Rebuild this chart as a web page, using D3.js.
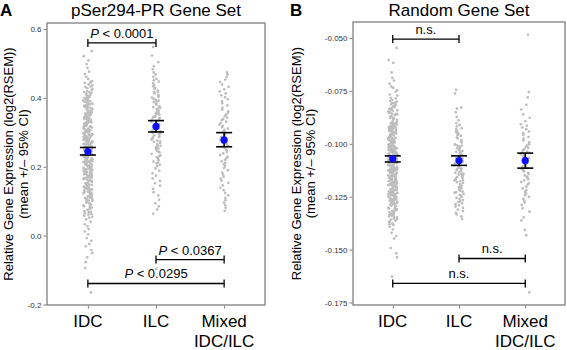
<!DOCTYPE html>
<html>
<head>
<meta charset="utf-8">
<script src="https://cdn.jsdelivr.net/npm/d3@7"></script>
<style>
  body { margin: 0; background: #fff; }
  text { font-family: "Liberation Sans", Arial, sans-serif; }
</style>
</head>
<body>
<div id="canvas"></div>
<script>
"use strict"

/*** DATA ***/
let categories = ["IDC", "ILC", "Mixed\nIDC/ILC"]

/* Panel A: pSer294-PR gene set, one value per tumour */
let idcA = [0.536, 0.521, 0.509, 0.498, 0.487, 0.476, 0.469, 0.461, 0.455, 0.449,
    0.447, 0.443, 0.436, 0.433, 0.428, 0.422, 0.419, 0.416, 0.412, 0.409, 0.405, 0.403, 0.401,
    0.399, 0.396, 0.393, 0.392, 0.388, 0.386, 0.383, 0.381, 0.379, 0.375, 0.373, 0.372, 0.368,
    0.366, 0.364, 0.361, 0.359, 0.357, 0.356, 0.354, 0.352, 0.350,
    0.348, 0.347, 0.344, 0.342, 0.34, 0.339, 0.336, 0.333, 0.332, 0.329, 0.327, 0.326, 0.324,
    0.321, 0.32, 0.318, 0.316, 0.313, 0.312, 0.31, 0.308, 0.307, 0.305, 0.304, 0.302, 0.301,
    0.299, 0.297, 0.296, 0.294, 0.292, 0.29, 0.289, 0.287, 0.285, 0.284, 0.282, 0.28, 0.279,
    0.277, 0.276, 0.273, 0.272, 0.27, 0.268, 0.267, 0.265, 0.263, 0.262, 0.26, 0.258, 0.257,
    0.255, 0.254, 0.252, 0.251,
    0.249, 0.247, 0.245, 0.244, 0.242, 0.24, 0.239, 0.237, 0.236, 0.234, 0.232, 0.231, 0.229,
    0.227, 0.226, 0.224, 0.222, 0.221, 0.219, 0.218, 0.216, 0.214, 0.213, 0.211, 0.209, 0.208,
    0.206, 0.205, 0.203, 0.201,
    0.199, 0.197, 0.195, 0.194, 0.192, 0.19, 0.188, 0.187, 0.185, 0.183, 0.181, 0.18, 0.178,
    0.176, 0.174, 0.173, 0.171, 0.169, 0.167, 0.166, 0.164, 0.162, 0.16, 0.158, 0.156, 0.154, 0.152,
    0.149, 0.147, 0.144, 0.142, 0.14, 0.137, 0.135, 0.133, 0.13, 0.128, 0.126, 0.123, 0.121,
    0.119, 0.116, 0.114, 0.112, 0.109, 0.107, 0.105, 0.103, 0.101,
    0.098, 0.094, 0.091, 0.088, 0.085, 0.081, 0.078, 0.075, 0.071, 0.068, 0.065, 0.061, 0.058,
    0.055, 0.052, 0.047, 0.04, 0.033, 0.027, 0.019, 0.012, 0.004,
    -0.007, -0.015, -0.024, -0.031, -0.042, -0.051, -0.063, -0.077, -0.094, -0.165,
    0.444, 0.439, 0.431, 0.426, 0.417, 0.414, 0.407, 0.402,
    0.397, 0.394, 0.39, 0.385, 0.382, 0.377, 0.374, 0.37, 0.367, 0.363, 0.36, 0.358, 0.355, 0.351,
    0.349, 0.346, 0.343, 0.341, 0.338, 0.335, 0.331, 0.328, 0.325, 0.322, 0.319, 0.317, 0.314,
    0.311, 0.309, 0.306, 0.303, 0.3,
    0.298, 0.295, 0.293, 0.291, 0.288, 0.286, 0.283, 0.281, 0.278, 0.275, 0.274, 0.271, 0.269,
    0.266, 0.264, 0.261, 0.259, 0.256, 0.253, 0.25,
    0.248, 0.246, 0.243, 0.241, 0.238, 0.235, 0.233, 0.23, 0.228, 0.225, 0.223, 0.22, 0.217,
    0.215, 0.212, 0.21, 0.207, 0.204, 0.202, 0.2,
    0.198, 0.196, 0.193, 0.191, 0.189, 0.186, 0.184, 0.182, 0.179, 0.177, 0.175, 0.172, 0.17,
    0.168, 0.165, 0.161, 0.157, 0.153,
    0.148, 0.145, 0.141, 0.138, 0.134, 0.131, 0.127, 0.124, 0.12, 0.117, 0.113, 0.11, 0.106, 0.102,
    0.096, 0.089, 0.083, 0.077, 0.069, 0.063]

let ilcA = [0.548, 0.523, 0.504, 0.492, 0.483, 0.474, 0.468, 0.461, 0.455, 0.451,
    0.447, 0.443, 0.438, 0.434, 0.43, 0.426, 0.421, 0.417, 0.413, 0.409, 0.406, 0.403, 0.401,
    0.397, 0.394, 0.39, 0.387, 0.383, 0.38, 0.376, 0.373, 0.369, 0.366, 0.362, 0.359, 0.356,
    0.353, 0.351, 0.348, 0.345, 0.342, 0.339, 0.336, 0.333, 0.331, 0.328, 0.325, 0.322, 0.319,
    0.316, 0.313, 0.31, 0.308, 0.305, 0.303, 0.301, 0.297, 0.294, 0.291, 0.288, 0.285, 0.282,
    0.279, 0.276, 0.272, 0.269, 0.266, 0.263, 0.259, 0.256, 0.253, 0.251, 0.246, 0.242, 0.237,
    0.233, 0.228, 0.224, 0.219, 0.215, 0.21, 0.206, 0.202, 0.195, 0.188, 0.181, 0.174, 0.166,
    0.159, 0.152, 0.145, 0.136, 0.126, 0.117, 0.104, 0.094, 0.085, 0.076, 0.064, -0.096,
    0.418, 0.392, 0.371, 0.357, 0.344, 0.334, 0.323, 0.311, 0.299, 0.286, 0.274, 0.261, 0.244,
    0.231, 0.212]

let mixA = [0.474, 0.468, 0.461, 0.453, 0.446, 0.439, 0.432, 0.425, 0.419, 0.413, 0.407, 0.402,
    0.396, 0.39, 0.384, 0.378, 0.372, 0.366, 0.361, 0.356, 0.352, 0.347, 0.343, 0.339, 0.335,
    0.331, 0.327, 0.323, 0.319, 0.315, 0.311, 0.307, 0.303, 0.298, 0.294, 0.29, 0.286, 0.282,
    0.278, 0.274, 0.27, 0.266, 0.262, 0.257, 0.253, 0.248, 0.243, 0.239, 0.234, 0.229, 0.225,
    0.22, 0.216, 0.211, 0.207, 0.202, 0.196, 0.19, 0.183, 0.177, 0.171, 0.165, 0.159, 0.153,
    0.146, 0.139, 0.132, 0.124, 0.117, 0.11, 0.103, 0.096, 0.089, 0.081, 0.072]

let meanA = [0.244, 0.317, 0.278]
let ciLowA = [0.234, 0.301, 0.258]
let ciHighA = [0.256, 0.334, 0.299]

/* Panel B: random gene set */
let idcB = [-0.0547, -0.0604, -0.0618, -0.0663, -0.0689, -0.0702,
    -0.0716, -0.0729, -0.0735, -0.0748, -0.0754, -0.0767, -0.0772, -0.0785, -0.0793,
    -0.0801, -0.0806, -0.0809, -0.0814, -0.0818, -0.0823, -0.0827, -0.0831, -0.0836, -0.0839,
    -0.0844, -0.0848, -0.0852, -0.0857, -0.0861, -0.0865, -0.0869, -0.0874, -0.0878, -0.0883,
    -0.0887, -0.0896,
    -0.0901, -0.0904, -0.0907, -0.0909, -0.0913, -0.0916, -0.0919, -0.0921, -0.0924, -0.0928,
    -0.0931, -0.0933, -0.0937, -0.0940, -0.0942, -0.0946, -0.0948, -0.0951, -0.0955, -0.0957,
    -0.0960, -0.0964, -0.0966, -0.0969, -0.0972, -0.0975, -0.0978, -0.0981, -0.0984, -0.0987,
    -0.0990, -0.0992, -0.0995, -0.0998,
    -0.1002, -0.1004, -0.1007, -0.1009, -0.1012, -0.1014, -0.1016, -0.1019, -0.1021, -0.1024,
    -0.1026, -0.1028, -0.1031, -0.1033, -0.1036, -0.1038, -0.1040, -0.1043, -0.1045, -0.1048,
    -0.1050, -0.1052, -0.1055, -0.1057, -0.1060, -0.1062, -0.1064, -0.1067, -0.1069, -0.1072,
    -0.1074, -0.1076, -0.1079, -0.1081, -0.1084, -0.1086, -0.1088, -0.1091, -0.1093, -0.1095,
    -0.1097, -0.1099,
    -0.1102, -0.1104, -0.1107, -0.1109, -0.1112, -0.1114, -0.1117, -0.1119, -0.1122, -0.1124,
    -0.1127, -0.1129, -0.1132, -0.1134, -0.1137, -0.1139, -0.1142, -0.1144, -0.1147, -0.1149,
    -0.1152, -0.1154, -0.1157, -0.1159, -0.1162, -0.1164, -0.1167, -0.1169, -0.1172, -0.1174,
    -0.1177, -0.1179, -0.1182, -0.1184, -0.1187, -0.1189, -0.1192, -0.1194, -0.1196, -0.1198,
    -0.1202, -0.1205, -0.1208, -0.1211, -0.1214, -0.1217, -0.1220, -0.1223, -0.1226, -0.1229,
    -0.1232, -0.1235, -0.1238, -0.1241, -0.1244, -0.1247, -0.1250, -0.1253, -0.1256, -0.1259,
    -0.1262, -0.1265, -0.1268, -0.1271, -0.1274, -0.1277, -0.1280, -0.1284, -0.1289, -0.1295,
    -0.1302, -0.1306, -0.1311, -0.1315, -0.1319, -0.1324, -0.1329, -0.1333, -0.1338, -0.1343,
    -0.1348, -0.1353, -0.1358, -0.1364, -0.1370, -0.1377, -0.1384, -0.1392,
    -0.1405, -0.1421, -0.1436, -0.1448, -0.1493, -0.1518, -0.1537, -0.1628,
    -0.0783, -0.0797, -0.0804, -0.0816, -0.0825, -0.0834, -0.0842, -0.0853, -0.0859, -0.0871,
    -0.0880, -0.0892,
    -0.0902, -0.0906, -0.0911, -0.0917, -0.0922, -0.0926, -0.0930, -0.0935, -0.0939, -0.0944,
    -0.0949, -0.0953, -0.0959, -0.0962, -0.0968, -0.0973, -0.0977, -0.0983, -0.0988, -0.0994,
    -0.1001, -0.1005, -0.1010, -0.1013, -0.1017, -0.1022, -0.1025, -0.1029, -0.1034, -0.1037,
    -0.1041, -0.1046, -0.1049, -0.1053, -0.1058, -0.1061, -0.1065, -0.1070, -0.1073, -0.1077,
    -0.1082, -0.1085, -0.1090, -0.1096,
    -0.1101, -0.1106, -0.1110, -0.1113, -0.1118, -0.1121, -0.1126, -0.1130, -0.1133, -0.1138,
    -0.1141, -0.1146, -0.1150, -0.1153, -0.1158, -0.1161, -0.1166, -0.1170, -0.1173, -0.1178,
    -0.1181, -0.1186, -0.1190, -0.1195,
    -0.1201, -0.1207, -0.1212, -0.1218, -0.1222, -0.1228, -0.1233, -0.1239, -0.1243, -0.1249,
    -0.1254, -0.1260, -0.1264, -0.1270, -0.1275, -0.1282, -0.1287, -0.1293,
    -0.1304, -0.1309, -0.1317, -0.1322, -0.1331, -0.1339, -0.1346, -0.1357, -0.1368, -0.1381]

let ilcB = [-0.0745, -0.0762, -0.0828, -0.0834, -0.0851, -0.0873, -0.0889, -0.0902,
    -0.0911, -0.0918, -0.0926, -0.0932, -0.0939, -0.0945, -0.0951, -0.0958, -0.0963, -0.0969,
    -0.0975, -0.0982, -0.0988, -0.0994,
    -0.1003, -0.1007, -0.1012, -0.1016, -0.1021, -0.1025, -0.1030, -0.1034, -0.1038, -0.1043,
    -0.1047, -0.1051, -0.1056, -0.1060, -0.1065, -0.1069, -0.1073, -0.1078, -0.1082, -0.1087,
    -0.1091, -0.1096,
    -0.1101, -0.1105, -0.1109, -0.1113, -0.1117, -0.1121, -0.1125, -0.1129, -0.1133, -0.1137,
    -0.1141, -0.1145, -0.1149, -0.1153, -0.1157, -0.1161, -0.1165, -0.1169, -0.1173, -0.1177,
    -0.1181, -0.1185, -0.1190, -0.1195,
    -0.1201, -0.1206, -0.1211, -0.1216, -0.1221, -0.1226, -0.1231, -0.1236, -0.1241, -0.1246,
    -0.1251, -0.1256, -0.1261, -0.1266, -0.1271, -0.1276, -0.1281, -0.1286, -0.1291, -0.1297,
    -0.1303, -0.1311, -0.1318, -0.1326, -0.1334, -0.1343, -0.1355,
    -0.0957, -0.1009, -0.1041, -0.1067, -0.1093, -0.1119, -0.1143, -0.1171, -0.1199, -0.1229]

let mixB = [-0.0485, -0.0755, -0.0781, -0.0816, -0.0838, -0.0861, -0.0877, -0.0893, -0.0908,
    -0.0914, -0.0923, -0.0931, -0.0942, -0.0950, -0.0958, -0.0967, -0.0975, -0.0984, -0.0993,
    -0.1002, -0.1008, -0.1014, -0.1019, -0.1025, -0.1031, -0.1037, -0.1043, -0.1049, -0.1055,
    -0.1061, -0.1067, -0.1073, -0.1079, -0.1086, -0.1093,
    -0.1101, -0.1107, -0.1113, -0.1119, -0.1125, -0.1131, -0.1137, -0.1143, -0.1149, -0.1155,
    -0.1161, -0.1167, -0.1173, -0.1180, -0.1187, -0.1194,
    -0.1203, -0.1211, -0.1219, -0.1227, -0.1235, -0.1243, -0.1251, -0.1260, -0.1269, -0.1278,
    -0.1289, -0.1305, -0.1321, -0.1348, -0.1362, -0.1407, -0.1432, -0.1702]

let meanB = [-0.1071, -0.1079, -0.1080]
let ciLowB = [-0.1086, -0.1102, -0.1115]
let ciHighB = [-0.1057, -0.1057, -0.1044]

/* Significance brackets */
let bracketsA = [
    { from: 0, to: 1, y: 0.5594, p: true, text: " < 0.0001" },
    { from: 1, to: 2, y: -0.0696, p: true, text: " < 0.0367" },
    { from: 0, to: 2, y: -0.1390, p: true, text: " < 0.0295" }
]
let bracketsB = [
    { from: 0, to: 1, y: -0.0505, p: false, text: "n.s." },
    { from: 1, to: 2, y: -0.1542, p: false, text: "n.s." },
    { from: 0, to: 2, y: -0.1660, p: false, text: "n.s." }
]

let ticksA = [-0.2, 0.0, 0.2, 0.4, 0.6]
let ticksB = [-0.175, -0.150, -0.125, -0.100, -0.075, -0.050]

/*** CANVAS SETUP ***/
let svgWidth = 567
let svgHeight = 350

let svg = d3.select("#canvas")
    .append("svg")
    .attr("width", svgWidth)
    .attr("height", svgHeight)

/* little hash so the jitter is fixed from run to run */
function jitterFraction(i) {
    let s = Math.sin((i + 1) * 12.9898) * 43758.5453
    return s - Math.floor(s)
}
let jitterScale = d3.scaleLinear().domain([0, 1]).range([-4.6, 4.6])

/**** function drawPanel(cfg) *****
 *  Draws one strip chart: points, mean +/- CI, box, axes, brackets, titles
*****/
function drawPanel(cfg) {
    let g = svg.append("g")

    let xScale = d3.scalePoint()
        .domain(categories)
        .range([cfg.left, cfg.right])
        .padding(0.6)

    let yScale = d3.scaleLinear()
        .domain(cfg.domain)
        .range([cfg.bottom, cfg.top])

    /* Jittered points */
    cfg.groups.forEach(function (values, gi) {
        g.append("g").selectAll("circle")
            .data(values)
            .join("circle")
            .attr("cx", function (d, i) { return xScale(categories[gi]) + jitterScale(jitterFraction(i + gi * 1000)) })
            .attr("cy", function (d) { return yScale(d) })
            .attr("r", 1.35)
            .attr("fill", "#bdbdbd")
    })

    /* Error bars */
    let eb = g.append("g")
        .attr("stroke", "#000")
        .attr("stroke-width", 1.6)
    categories.forEach(function (c, i) {
        let x = xScale(c)
        eb.append("line")
            .attr("x1", x).attr("x2", x)
            .attr("y1", yScale(cfg.ciLow[i])).attr("y2", yScale(cfg.ciHigh[i]))
        eb.append("line")
            .attr("x1", x - 8).attr("x2", x + 8)
            .attr("y1", yScale(cfg.ciLow[i])).attr("y2", yScale(cfg.ciLow[i]))
        eb.append("line")
            .attr("x1", x - 8).attr("x2", x + 8)
            .attr("y1", yScale(cfg.ciHigh[i])).attr("y2", yScale(cfg.ciHigh[i]))
    })

    g.append("g").selectAll("circle")
        .data(cfg.mean)
        .join("circle")
        .attr("cx", function (d, i) { return xScale(categories[i]) })
        .attr("cy", function (d) { return yScale(d) })
        .attr("r", 3.6)
        .attr("fill", "#0d0dff")

    /* Panel border */
    g.append("rect")
        .attr("x", cfg.left)
        .attr("y", cfg.top)
        .attr("width", cfg.right - cfg.left)
        .attr("height", cfg.bottom - cfg.top)
        .attr("fill", "none")
        .attr("stroke", "#7f7f7f")
        .attr("stroke-width", 1.3)

    /* Y axis */
    let yAxis = g.append("g")
        .attr("transform", "translate(" + (cfg.left - 0.5) + ",0)")
        .call(d3.axisLeft(yScale)
            .tickValues(cfg.ticks)
            .tickSize(3)
            .tickPadding(2)
            .tickFormat(function (d) { return d.toFixed(cfg.digits) }))
    yAxis.select(".domain").remove()
    yAxis.selectAll("line").attr("stroke", "#7f7f7f")
    yAxis.selectAll("text")
        .attr("font-size", "8px")
        .attr("fill", "#333")
        .attr("font-family", "Liberation Sans, Arial, sans-serif")

    /* X axis */
    let xAxis = g.append("g")
        .attr("transform", "translate(0," + (cfg.bottom + 0.5) + ")")
        .call(d3.axisBottom(xScale).tickSize(3).tickFormat(""))
    xAxis.select(".domain").remove()
    xAxis.selectAll("line").attr("stroke", "#7f7f7f")

    categories.forEach(function (c) {
        let lines = c.split("\n")
        let t = g.append("text")
            .attr("text-anchor", "middle")
            .attr("font-size", "17px")
            .attr("fill", "#000")
        lines.forEach(function (l, li) {
            t.append("tspan")
                .attr("x", xScale(c))
                .attr("y", 327 + li * 20)
                .text(l)
        })
    })

    /* Brackets */
    cfg.brackets.forEach(function (b) {
        let x1 = xScale(categories[b.from])
        let x2 = xScale(categories[b.to])
        let y = yScale(b.y)
        let bg = g.append("g").attr("stroke", "#000").attr("stroke-width", 1.3)
        bg.append("line").attr("x1", x1).attr("x2", x2).attr("y1", y).attr("y2", y)
        bg.append("line").attr("x1", x1).attr("x2", x1).attr("y1", y - 4).attr("y2", y + 4)
        bg.append("line").attr("x1", x2).attr("x2", x2).attr("y1", y - 4).attr("y2", y + 4)

        let t = g.append("text")
            .attr("x", (x1 + x2) / 2)
            .attr("y", y - 5)
            .attr("text-anchor", "middle")
            .attr("font-size", "13px")
            .attr("fill", "#000")
        if (b.p) {
            t.append("tspan").attr("font-style", "italic").text("P")
        }
        t.append("tspan").text(b.text)
    })

    /* Title and panel letter */
    g.append("text")
        .attr("x", (cfg.left + cfg.right) / 2)
        .attr("y", 16)
        .attr("text-anchor", "middle")
        .attr("font-size", "17px")
        .text(cfg.title)

    g.append("text")
        .attr("x", cfg.letterX)
        .attr("y", 16)
        .attr("font-size", "17px")
        .attr("font-weight", "bold")
        .text(cfg.letter)

    /* Y axis title, two lines */
    let midY = (cfg.top + cfg.bottom) / 2
    let yLab = ["Relative Gene Expression (log2(RSEM))", "(mean +/\u2013 95% CI)"]
    yLab.forEach(function (l, li) {
        g.append("text")
            .attr("transform", "translate(" + cfg.titleX[li] + "," + midY + ") rotate(-90)")
            .attr("text-anchor", "middle")
            .attr("font-size", "13px")
            .text(l)
    })
}

drawPanel({
    left: 47, right: 265, top: 23, bottom: 305,
    domain: [-0.2015, 0.6174],
    groups: [idcA, ilcA, mixA],
    mean: meanA, ciLow: ciLowA, ciHigh: ciHighA,
    ticks: ticksA, digits: 1,
    brackets: bracketsA,
    title: "pSer294-PR Gene Set",
    letter: "A", letterX: 0,
    titleX: [13, 28]
})

drawPanel({
    left: 353, right: 565, top: 22, bottom: 305,
    domain: [-0.17618, -0.04245],
    groups: [idcB, ilcB, mixB],
    mean: meanB, ciLow: ciLowB, ciHigh: ciHighB,
    ticks: ticksB, digits: 3,
    brackets: bracketsB,
    title: "Random Gene Set",
    letter: "B", letterX: 290,
    titleX: [301, 315]
})
</script>
</body>
</html>
